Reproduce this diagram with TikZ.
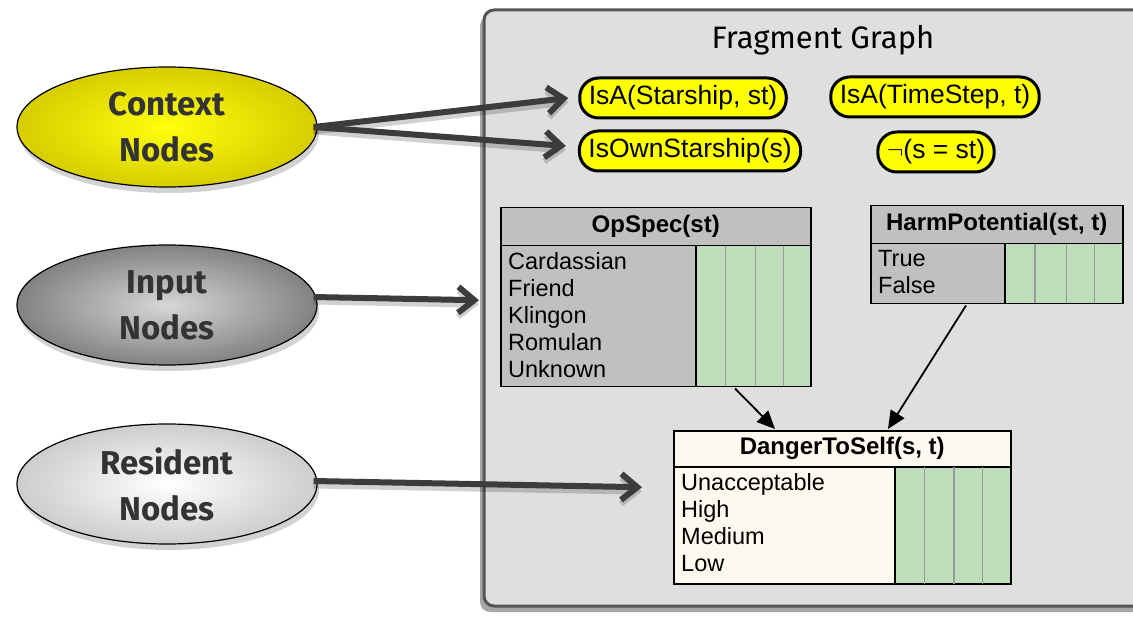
\documentclass[tikz,border=0pt]{standalone}
\usepackage{fontspec}
\setmainfont{Liberation Sans}
\newfontfamily\comicfont{Fira Sans}
\usetikzlibrary{shapes.geometric,shadows,arrows.meta,calc}
\definecolor{panelfill}{HTML}{DFDFDF}
\definecolor{paneledge}{HTML}{555555}
\definecolor{pillyellow}{HTML}{FFFF00}
\definecolor{tgray}{HTML}{C0C0C0}
\definecolor{tcream}{HTML}{FDF9EE}
\definecolor{tgreen}{HTML}{BDDDBB}
\definecolor{sepgray}{HTML}{999999}
\definecolor{arrowgray}{HTML}{3C3C3C}
\definecolor{labeltext}{HTML}{333333}
\tikzset{
  bubble/.style={ellipse, draw=black, line width=1.2pt, minimum width=300, minimum height=120, inner sep=0pt,
    align=center, text=labeltext, font=\comicfont\bfseries\fontsize{33}{46}\selectfont,
    drop shadow={shadow xshift=2pt, shadow yshift=-6pt, opacity=0.35}},
  pill/.style={draw=black, line width=3pt, fill=pillyellow, rounded corners=19pt, minimum height=40,
    inner xsep=9pt, inner ysep=0pt, font=\fontsize{26.5}{26}\selectfont},
  thead/.style={draw=black, line width=1.5pt, anchor=north west, inner sep=0pt, font=\bfseries\fontsize{24}{24}\selectfont},
  tbody/.style={draw=black, line width=1.5pt, anchor=north west, inner sep=0pt},
  tgreenbox/.style={draw=black, line width=1.5pt, fill=tgreen, anchor=north east, inner sep=0pt},
  tstates/.style={anchor=north west, align=left, inner xsep=8pt, inner ysep=7pt, font=\fontsize{23.5}{27}\selectfont},
  sep/.style={draw=sepgray, line width=1.2pt},
  bigarrow/.style={draw=arrowgray, line width=6pt, -{Straight Barb[length=16pt, width=26pt, line width=6pt]},
    preaction={draw=black, opacity=0.18, line width=7pt, transform canvas={yshift=-4pt}}},
  thinarrow/.style={draw=black, line width=1.8pt, -{Triangle[length=18pt, width=16pt]}},
}
\begin{document}
\begin{tikzpicture}[x=1pt,y=-1pt]
\useasboundingbox (0,0) rectangle (1133,620);
\fill[white] (0,0) rectangle (1133,620);
\begin{scope}
\clip (0,0) rectangle (1133,620);
% panel
\fill[black, opacity=0.35, rounded corners=10pt] (480,16) rectangle (1150,612);
\draw[fill=panelfill, draw=paneledge, line width=3pt, rounded corners=10pt] (484,10) rectangle (1150,606);
\node[font=\comicfont\fontsize{31}{31}\selectfont] (title) at (823,40) {Fragment Graph};
\end{scope}

% left bubbles
\node[bubble, shading=radial, inner color=yellow!95!white, outer color={rgb,255:red,215;green,205;blue,0}] (ctx) at (167,127) {Context\\Nodes};
\node[bubble, shading=radial, inner color={rgb,255:red,215;green,215;blue,215}, outer color={rgb,255:red,130;green,130;blue,130}] (inp) at (167,305) {Input\\Nodes};
\node[bubble, shading=radial, inner color=white, outer color={rgb,255:red,205;green,205;blue,205}] (res) at (167,484) {Resident\\Nodes};

% context pills
\node[pill] (isaS) at (683,98) {IsA(Starship, st)};
\node[pill] (isaT) at (935,97) {IsA(TimeStep, t)};
\node[pill] (own) at (690,151) {IsOwnStarship(s)};
\node[pill] (neq) at (936,152) {$\neg$(s = st)};

% OpSpec table
\node[thead, fill=tgray, minimum width=310, minimum height=38] (opH) at (500,207) {OpSpec(st)};
\node[tbody, fill=tgray, minimum width=310, minimum height=141] (opB) at (500,245) {};
\node[tgreenbox, minimum width=115, minimum height=141] (opG) at (opB.north east) {};
\foreach \f in {0.26,0.52,0.76}{\draw[sep] ($(opG.north west)!\f!(opG.north east)+(0,1)$) -- ($(opG.south west)!\f!(opG.south east)+(0,-1)$);}
\node[tstates] (opS) at (opB.north west) {Cardassian\\Friend\\Klingon\\Romulan\\Unknown};

% HarmPotential table
\node[thead, fill=tgray, minimum width=252, minimum height=38] (hpH) at (870,205) {HarmPotential(st, t)};
\node[tbody, fill=tgray, minimum width=252, minimum height=60] (hpB) at (870,243) {};
\node[tgreenbox, minimum width=118, minimum height=60] (hpG) at (hpB.north east) {};
\foreach \f in {0.26,0.52,0.76}{\draw[sep] ($(hpG.north west)!\f!(hpG.north east)+(0,1)$) -- ($(hpG.south west)!\f!(hpG.south east)+(0,-1)$);}
\node[tstates] (hpS) at (hpB.north west) {True\\False};

% DangerToSelf table
\node[thead, fill=tcream, minimum width=337, minimum height=36] (dsH) at (673,430) {DangerToSelf(s, t)};
\node[tbody, fill=tcream, minimum width=337, minimum height=117] (dsB) at (673,466) {};
\node[tgreenbox, minimum width=116, minimum height=117] (dsG) at (dsB.north east) {};
\foreach \f in {0.26,0.51,0.75}{\draw[sep] ($(dsG.north west)!\f!(dsG.north east)+(0,1)$) -- ($(dsG.south west)!\f!(dsG.south east)+(0,-1)$);}
\node[tstates] (dsS) at (dsB.north west) {Unacceptable\\High\\Medium\\Low};

% arrows between tables
\draw[thinarrow] ($(opB.south west)+(235,1)$) -- ($(dsH.north west)+(102,-1)$);
\draw[thinarrow] ($(hpB.south west)+(96,1)$) -- ($(dsH.north west)+(215,-1)$);

% big arrows
\coordinate (ctxE) at ($(ctx.east)+(-4,0)$);
\draw[bigarrow] (ctxE) -- ($(isaS.west)+(-10,0)$);
\draw[bigarrow] (ctxE) -- ($(own.west)+(-12,-5)$);
\draw[bigarrow] ($(inp.east)+(-4,-8)$) -- ($(opB.west)+(-21,-16)$);
\draw[bigarrow] ($(res.east)+(-4,-3)$) -- ($(dsB.west)+(-31,-38)$);
\end{tikzpicture}
\end{document}
